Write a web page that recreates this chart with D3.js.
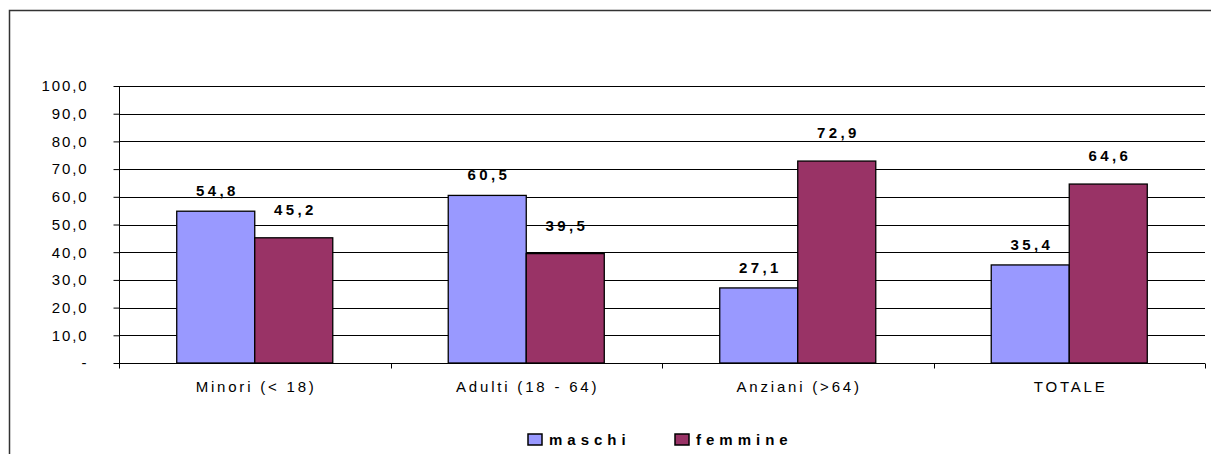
<!DOCTYPE html>
<html>
<head>
<meta charset="utf-8">
<script src="https://cdn.jsdelivr.net/npm/d3@7"></script>
<style>
  body { margin: 0; background: #fff; }
  text { font-family: "Liberation Sans", Arial, sans-serif; }
</style>
</head>
<body>
<svg id="chart"></svg>
<script>
// Categories and series
const categories = ["Minori (< 18)", "Adulti (18 - 64)", "Anziani (>64)", "TOTALE"];
const seriesNames = ["maschi", "femmine"];
const maschi = [54.8, 60.5, 27.1, 35.4];
const femmine = [45.2, 39.5, 72.9, 64.6];
const yTicks = [0, 10, 20, 30, 40, 50, 60, 70, 80, 90, 100];

const colors = { maschi: "#9999ff", femmine: "#993366" };
// gap between bar top and label baseline, per series
const labelGap = { maschi: 15, femmine: 23 };

const width = 1211, height = 454;
const margin = { top: 86, right: 6, bottom: 91, left: 119 };

const svg = d3.select("#chart")
    .attr("width", width)
    .attr("height", height);

// Italian number format: comma decimal
const it = d3.formatLocale({ decimal: ",", thousands: ".", grouping: [3], currency: ["€", ""] });
const fmt = it.format(".1f");

// Outer frame (right and bottom edges fall outside the picture)
svg.append("path")
    .attr("d", `M9.5,${height + 2} V10.5 H${width + 2}`)
    .attr("fill", "none")
    .attr("stroke", "#333")
    .attr("stroke-width", 1.5);

const x0 = d3.scaleBand()
    .domain(categories)
    .range([margin.left, width - margin.right])
    .paddingInner(0)
    .paddingOuter(0);

const x1 = d3.scaleBand()
    .domain(seriesNames)
    .range([0, x0.bandwidth()])
    .paddingInner(0)
    .paddingOuter(0.74);

const y = d3.scaleLinear()
    .domain([0, 100])
    .range([height - margin.bottom, margin.top]);

// Gridlines
svg.append("g")
    .selectAll("line")
    .data(yTicks.filter(d => d > 0))
    .join("line")
    .attr("x1", margin.left)
    .attr("x2", width - margin.right)
    .attr("y1", d => Math.round(y(d)) + 0.5)
    .attr("y2", d => Math.round(y(d)) + 0.5)
    .attr("stroke", "#000")
    .attr("stroke-width", 1);

// Y axis
const yAxis = svg.append("g")
    .attr("transform", `translate(${margin.left + 0.5},0)`)
    .call(d3.axisLeft(y).tickValues(yTicks).tickSize(6).tickPadding(25)
        .tickFormat(d => d === 0 ? "-" : fmt(d)));
yAxis.select(".domain").attr("d", `M0,${margin.top} V${y(0) + 4}`).attr("stroke", "#000");
yAxis.selectAll(".tick line").attr("stroke", "#000");
yAxis.selectAll(".tick text")
    .attr("font-size", 15)
    .attr("letter-spacing", "1.9px")
    .attr("fill", "#000")
    .attr("font-family", "'Liberation Sans', Arial, sans-serif");

// Bars
const data = categories.map((c, i) => ({ cat: c, values: [
    { key: "maschi", value: maschi[i] },
    { key: "femmine", value: femmine[i] }
] }));

const groups = svg.append("g")
    .selectAll("g")
    .data(data)
    .join("g")
    .attr("transform", d => `translate(${x0(d.cat)},0)`);

groups.selectAll("rect")
    .data(d => d.values)
    .join("rect")
    .attr("x", d => x1(d.key))
    .attr("y", d => y(d.value))
    .attr("width", x1.bandwidth())
    .attr("height", d => y(0) - y(d.value))
    .attr("fill", d => colors[d.key])
    .attr("stroke", "#000")
    .attr("stroke-width", 1.3);

// Value labels
groups.selectAll("text.val")
    .data(d => d.values)
    .join("text")
    .attr("class", "val")
    .attr("x", d => x1(d.key) + x1.bandwidth() / 2 + 1.7)
    .attr("y", d => y(d.value) - labelGap[d.key])
    .attr("text-anchor", "middle")
    .attr("font-size", 15)
    .attr("font-weight", "bold")
    .attr("letter-spacing", "3.4px")
    .text(d => fmt(d.value));

// X axis
const xAxisY = Math.round(y(0)) + 0.5;
svg.append("line")
    .attr("x1", margin.left)
    .attr("x2", width - margin.right)
    .attr("y1", xAxisY)
    .attr("y2", xAxisY)
    .attr("stroke", "#000");

const boundaries = categories.map(c => x0(c)).concat([width - margin.right]);
svg.append("g")
    .selectAll("line")
    .data(boundaries)
    .join("line")
    .attr("x1", d => Math.round(d) + 0.5)
    .attr("x2", d => Math.round(d) + 0.5)
    .attr("y1", xAxisY)
    .attr("y2", xAxisY + 5)
    .attr("stroke", "#000");

svg.append("g")
    .selectAll("text")
    .data(categories)
    .join("text")
    .attr("x", d => x0(d) + x0.bandwidth() / 2 + 1.4)
    .attr("y", 392)
    .attr("text-anchor", "middle")
    .attr("font-size", 15)
    .attr("letter-spacing", "2.8px")
    .text(d => d);

// Legend
const legendX = [528, 675];
const legend = svg.append("g")
    .selectAll("g")
    .data(seriesNames)
    .join("g")
    .attr("transform", (d, i) => `translate(${legendX[i]},434)`);

legend.append("rect")
    .attr("width", 14)
    .attr("height", 11)
    .attr("fill", d => colors[d])
    .attr("stroke", "#000")
    .attr("stroke-width", 1.5);

legend.append("text")
    .attr("x", 21)
    .attr("y", 10.5)
    .attr("font-size", 15)
    .attr("font-weight", "bold")
    .attr("letter-spacing", "5px")
    .text(d => d);
</script>
</body>
</html>
